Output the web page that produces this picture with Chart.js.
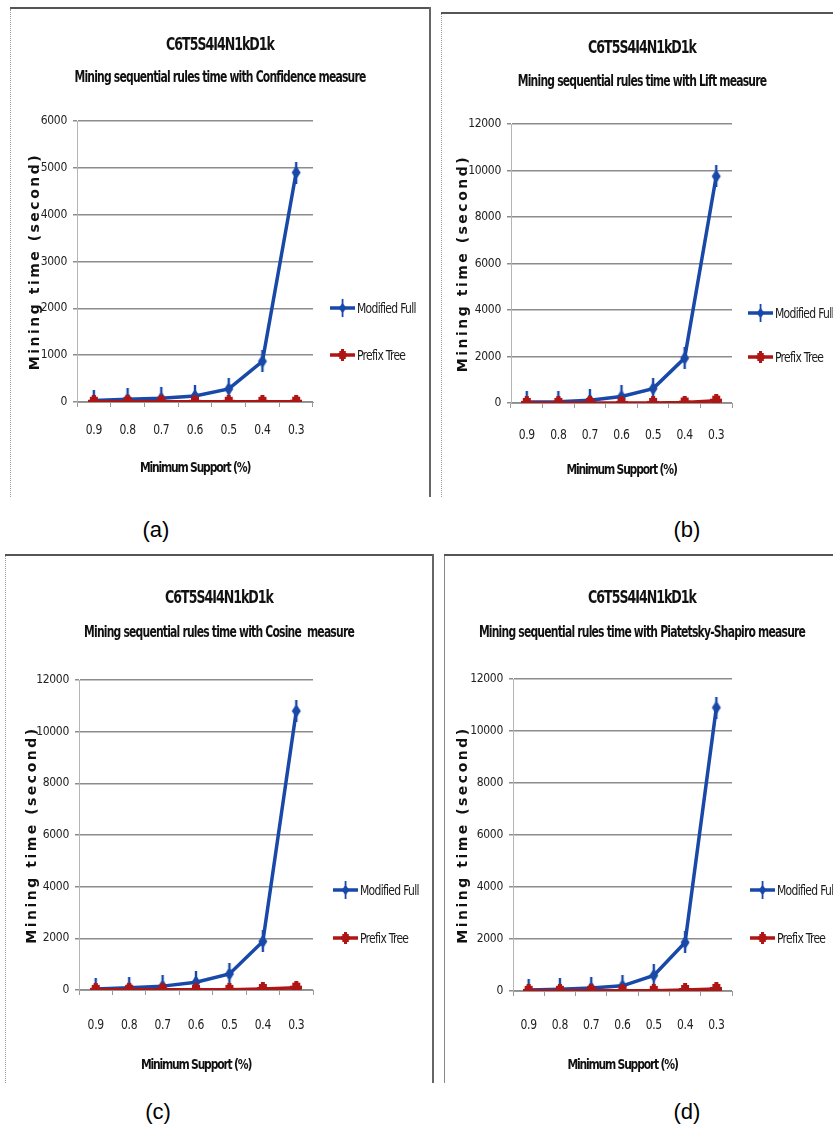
<!DOCTYPE html>
<html><head><meta charset="utf-8">
<script src="https://cdn.jsdelivr.net/npm/chart.js@4/dist/chart.umd.min.js"></script>
<style>
html,body{margin:0;padding:0;background:#fff;width:833px;height:1130px;overflow:hidden}
body{position:relative}
.panel{position:absolute;overflow:hidden;box-sizing:border-box}
.panel canvas{position:absolute;left:0;top:0}
.line{position:absolute;background:#555}
.dot{position:absolute;border-left:1px dotted #9a9a9a}
.cap{position:absolute;width:60px;text-align:center;font:22px 'Liberation Sans',Arial,sans-serif;color:#000;line-height:26px}
</style></head><body>

<div class="panel" style="left:10px;top:8px;width:420px;height:489px"><canvas id="ca" width="420" height="489"></canvas></div>
<div class="panel" style="left:441px;top:13px;width:392px;height:484px"><canvas id="cb" width="402" height="484"></canvas></div>
<div class="panel" style="left:5px;top:555px;width:428px;height:528px"><canvas id="cc" width="428" height="528"></canvas></div>
<div class="panel" style="left:444px;top:555px;width:389px;height:528px"><canvas id="cd" width="396" height="528"></canvas></div>

<!-- frame lines -->
<div class="line" style="left:10px;top:7px;width:421px;height:2px"></div>
<div class="line" style="left:429px;top:7px;width:2px;height:490px;background:#666"></div>
<div class="dot" style="left:10px;top:9px;height:488px"></div>
<div class="line" style="left:441px;top:12px;width:392px;height:2px"></div>
<div class="dot" style="left:441px;top:14px;height:483px"></div>
<div class="line" style="left:5px;top:554px;width:429px;height:2px"></div>
<div class="line" style="left:432px;top:554px;width:2px;height:529px;background:#666"></div>
<div class="dot" style="left:5px;top:556px;height:527px"></div>
<div class="line" style="left:444px;top:554px;width:389px;height:2px"></div>
<div class="line" style="left:444px;top:556px;width:1px;height:527px;background:#888"></div>

<div class="cap" style="left:126px;top:517px">(a)</div>
<div class="cap" style="left:657px;top:517px">(b)</div>
<div class="cap" style="left:128px;top:1099px">(c)</div>
<div class="cap" style="left:657px;top:1099px">(d)</div>

<script>
// ---------- data ----------
const categories = ['0.9', '0.8', '0.7', '0.6', '0.5', '0.4', '0.3'];
const seriesNames = ['Modified Full', 'Prefix Tree'];
const mainTitle = 'C6T5S4I4N1kD1k';
const xAxisTitle = 'Minimum Support (%)';
const yAxisTitle = 'Mining time (second)';

const subtitleA = 'Mining sequential rules time with Confidence measure';
const subtitleB = 'Mining sequential rules time with Lift measure';
const subtitleC = 'Mining sequential rules time with Cosine  measure';
const subtitleD = 'Mining sequential rules time with Piatetsky-Shapiro measure';

const fullA   = [30, 60, 80, 130, 280, 870, 4900];
const prefixA = [5, 5, 5, 5, 5, 5, 8];
const fullB   = [40, 50, 120, 280, 620, 1930, 9750];
const prefixB = [5, 5, 5, 5, 5, 20, 100];
const fullC   = [40, 90, 150, 300, 620, 1880, 10800];
const prefixC = [5, 5, 5, 5, 5, 40, 90];
const fullD   = [40, 70, 120, 200, 600, 1870, 10900];
const prefixD = [5, 5, 5, 5, 5, 40, 80];

const yMaxA = 6000,  yStepA = 1000;
const yMaxB = 12000, yStepB = 2000;
const yMaxC = 12000, yStepC = 2000;
const yMaxD = 12000, yStepD = 2000;

// ---------- style ----------
const COND = "'DejaVu Sans Condensed','DejaVu Sans',sans-serif";
const BLUE = '#1848a8';
const RED = '#b01515';

function makeMarker(color, kind) {
  const c = document.createElement('canvas');
  const g = c.getContext('2d');
  if (kind === 'full') {
    c.width = 12; c.height = 22;
    g.fillStyle = color; g.strokeStyle = color;
    g.lineWidth = 2.4;
    g.beginPath(); g.moveTo(6, 0); g.lineTo(6, 22); g.stroke();
    g.beginPath(); g.moveTo(6, 4); g.lineTo(10.5, 11); g.lineTo(6, 18); g.lineTo(1.5, 11); g.closePath(); g.fill();
  } else {
    c.width = 12; c.height = 14;
    g.fillStyle = color;
    g.fillRect(2, 2, 8, 10);
    g.fillRect(0, 5, 12, 4);
    g.fillRect(4, 0, 4, 14);
  }
  return c;
}
const markerFull = makeMarker(BLUE, 'full');
const markerPrefix = makeMarker(RED, 'prefix');

// custom legend drawn to the right of the plot
const sideLegend = {
  id: 'sideLegend',
  afterDraw(chart, args, opts) {
    const ctx = chart.ctx;
    chart.data.datasets.forEach((ds, i) => {
      const y = opts.rows[i];
      ctx.save();
      ctx.strokeStyle = ds.borderColor; ctx.lineWidth = 3.5;
      ctx.beginPath(); ctx.moveTo(opts.x, y); ctx.lineTo(opts.x + 25, y); ctx.stroke();
      const img = ds.pointStyle;
      const s = 0.8;
      ctx.drawImage(img, opts.x + 12.5 - img.width * s / 2, y - img.height * s / 2, img.width * s, img.height * s);
      ctx.fillStyle = '#1a1a1a';
      ctx.font = '12px ' + COND;
      ctx.letterSpacing = '-0.7px';
      ctx.textBaseline = 'middle';
      ctx.translate(0, y + 1);
      ctx.scale(1, 1.2);
      ctx.fillText(ds.label, opts.x + 27, 0);
      ctx.restore();
    });
  }
};

// reserves empty space at the right of the plot (for the legend) without narrowing the titles
const rightSpace = {
  id: 'rightSpace',
  beforeInit(chart, args, opts) {
    const box = {
      position: 'right', weight: 100, fullSize: false, options: {},
      left: 0, top: 0, right: 0, bottom: 0, width: 0, height: 0,
      isHorizontal() { return false; },
      getPadding() { return { left: 0, right: 0, top: 0, bottom: 0 }; },
      update(maxWidth, maxHeight) { this.width = opts.width; this.height = maxHeight; return { width: this.width, height: this.height }; },
      draw() {}
    };
    Chart.layouts.addBox(chart, box);
  }
};

// letter spacing / vertical stretch for texts (to mimic a tall narrow font)
const textStyle = {
  id: 'textStyle',
  beforeDraw(chart, args, opts) {
    const wrap = (obj, method, st) => {
      if (!obj || !st || obj['__st_' + method]) return;
      const orig = obj[method].bind(obj);
      obj[method] = function (...a) {
        const c = chart.ctx;
        c.save();
        c.letterSpacing = st.sp;
        if (st.sy) { c.translate(0, st.cy); c.scale(1, st.sy); c.translate(0, -st.cy); }
        orig(...a);
        c.restore();
      };
      obj['__st_' + method] = true;
    };
    wrap(chart.scales.y, 'drawTitle', opts.yTitle);
    wrap(chart.scales.x, 'drawTitle', opts.xTitle);
    wrap(chart.scales.x, 'drawLabels', opts.xTicks);
    wrap(chart.scales.y, 'drawLabels', opts.yTicks);
    const TitleCls = chart.titleBlock && chart.titleBlock.constructor;
    chart.boxes.forEach(b => {
      if (TitleCls && b instanceof TitleCls) wrap(b, 'draw', b === chart.titleBlock ? opts.title : opts.subtitle);
    });
  }
};

function build(canvasId, subtitle, full, prefix, yMax, yStep, g) {
  const W = g.w, H = g.h;
  const tLH = 14 * 1.2, sLH = 12 * 1.2, xlLH = 12 * 1.2, xtLH = 12 * 1.2, ytLH = 14 * 1.2;
  new Chart(document.getElementById(canvasId), {
    type: 'line',
    data: {
      labels: categories,
      datasets: [
        { label: seriesNames[0], data: full, borderColor: BLUE, backgroundColor: BLUE, borderWidth: 3.5,
          pointStyle: markerFull, pointRadius: 6, tension: 0, order: 1 },
        { label: seriesNames[1], data: prefix, borderColor: RED, backgroundColor: RED, borderWidth: 3.5,
          pointStyle: markerPrefix, pointRadius: 6, tension: 0, order: 0 }
      ]
    },
    options: {
      responsive: false,
      animation: false,
      devicePixelRatio: 1,
      layout: { padding: 0 },
      plugins: {
        legend: { display: false },
        tooltip: { enabled: false },
        title: {
          display: true, text: mainTitle, color: '#111',
          font: { family: COND, size: 14, weight: 'bold' },
          padding: { top: g.titleY - tLH / 2, bottom: 0 }
        },
        subtitle: {
          display: true, text: subtitle, color: '#111',
          font: { family: COND, size: 12, weight: 'bold' },
          padding: { top: g.subY - sLH / 2 - (g.titleY + tLH / 2), bottom: g.t - (g.subY + sLH / 2) }
        },
        sideLegend: { x: g.legX, rows: g.legRows },
        rightSpace: { width: W - g.r },
        textStyle: {
          title:    { sp: '-1px',   cy: g.titleY, sy: 1.25 },
          subtitle: { sp: '-0.8px', cy: g.subY,   sy: 1.25 },
          xTitle:   { sp: '-1.2px', cy: g.xTitleY, sy: 1.2 },
          xTicks:   { sp: '-0.3px', cy: g.xLabY,  sy: 1.2 },
          yTicks:   { sp: '-0.3px' },
          yTitle:   { sp: '2.5px' }
        }
      },
      scales: {
        x: {
          type: 'category',
          offset: true,
          grid: { display: true, offset: true, drawOnChartArea: false, drawTicks: true, tickLength: 5, color: '#999' },
          border: { display: true, color: '#999', width: 1 },
          ticks: { color: '#222', font: { family: COND, size: 12 }, padding: g.xLabY - g.b - 5 - xlLH / 2,
                   autoSkip: false, maxRotation: 0 },
          title: { display: true, text: xAxisTitle, color: '#111',
                   font: { family: COND, size: 12, weight: 'bold' },
                   padding: { top: 0, bottom: H - g.xTitleY - xtLH / 2 } },
          afterFit: (s) => { s.height = H - g.b; }
        },
        y: {
          min: 0, max: yMax,
          grid: { color: '#8c8c8c', lineWidth: 1.5, drawTicks: true, tickLength: 4 },
          border: { display: true, color: '#b5b5b5', width: 1 },
          ticks: { stepSize: yStep, color: '#222', font: { family: COND, size: 12 }, padding: 6,
                   callback: (v) => String(v) },
          title: { display: true, text: yAxisTitle, color: '#111',
                   font: { family: "'DejaVu Sans',Verdana,sans-serif", size: 14, weight: 'bold' },
                   padding: { top: g.yTitleX - ytLH / 2, bottom: 0 } },
          afterFit: (s) => { s.width = g.l; }
        }
      }
    },
    plugins: [rightSpace, sideLegend, textStyle]
  });
}

build('ca', subtitleA, fullA, prefixA, yMaxA, yStepA,
  { w: 420, h: 489, titleY: 37, subY: 70, l: 67, r: 303, t: 113, b: 394, xLabY: 422, xTitleY: 460, yTitleX: 25, legX: 320, legRows: [300, 347] });
build('cb', subtitleB, fullB, prefixB, yMaxB, yStepB,
  { w: 402, h: 484, titleY: 35, subY: 69, l: 70, r: 291, t: 111, b: 390, xLabY: 422, xTitleY: 457, yTitleX: 22, legX: 307, legRows: [300, 344] });
build('cc', subtitleC, fullC, prefixC, yMaxC, yStepC,
  { w: 428, h: 528, titleY: 43, subY: 78, l: 74, r: 308, t: 125, b: 435, xLabY: 470, xTitleY: 510, yTitleX: 27, legX: 328, legRows: [335, 383] });
build('cd', subtitleD, fullD, prefixD, yMaxD, yStepD,
  { w: 396, h: 528, titleY: 43, subY: 78, l: 69, r: 288, t: 124, b: 436, xLabY: 470, xTitleY: 510, yTitleX: 19, legX: 306, legRows: [335, 383] });
</script>
</body></html>
